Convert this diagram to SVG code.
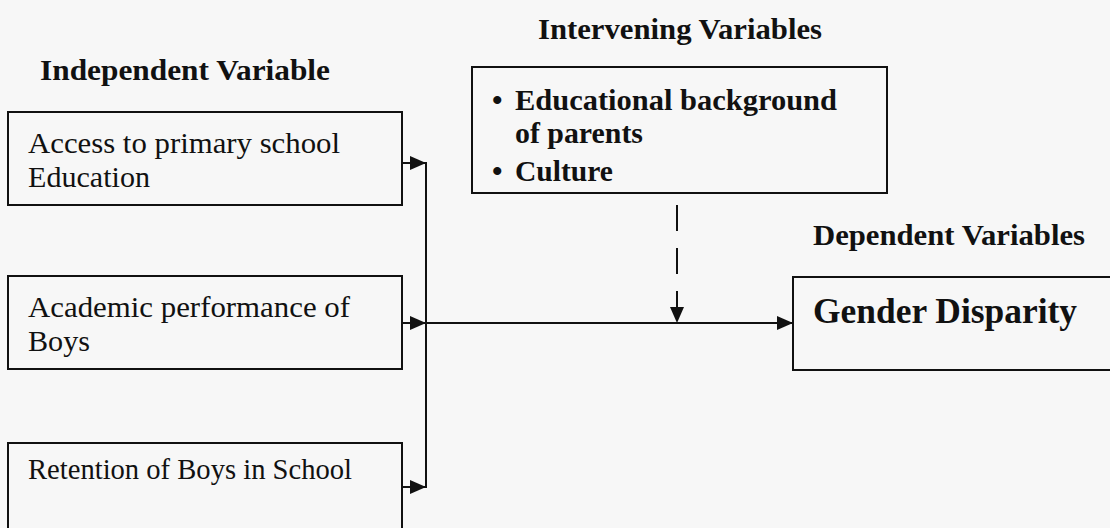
<svg xmlns="http://www.w3.org/2000/svg" width="1110" height="528" viewBox="0 0 1110 528">
<style>
.box{fill:none;stroke:#111;stroke-width:2}
.hdr{font-family:"Liberation Serif","Times New Roman",serif;font-weight:bold;font-size:29px;fill:#111}
.txt{font-family:"Liberation Serif","Times New Roman",serif;font-size:30px;fill:#111}
.btxt{font-family:"Liberation Serif","Times New Roman",serif;font-weight:bold;font-size:30px;fill:#111}
.big{font-family:"Liberation Serif","Times New Roman",serif;font-weight:bold;font-size:35px;fill:#111}
.ln{fill:none;stroke:#111;stroke-width:2}
.dash{fill:none;stroke:#111;stroke-width:2;stroke-dasharray:26 17}
</style>
<defs>
<marker id="ah" viewBox="0 0 16 14" refX="16" refY="7" markerWidth="16" markerHeight="14" orient="auto" markerUnits="userSpaceOnUse">
<path d="M0,0 L16,7 L0,14 z" fill="#111"/>
</marker>
</defs>
<rect x="0" y="0" width="1110" height="528" fill="#f7f7f7"/>
<g id="headers">
<text class="hdr" x="40" y="80" textLength="290" lengthAdjust="spacingAndGlyphs">Independent Variable</text>
<text class="hdr" x="538" y="39" textLength="284" lengthAdjust="spacingAndGlyphs">Intervening Variables</text>
<text class="hdr" x="813" y="245" textLength="272" lengthAdjust="spacingAndGlyphs">Dependent Variables</text>
</g>
<g id="access">
<rect class="box" x="8" y="112" width="394" height="93"/>
<text class="txt" x="28" y="153" textLength="312" lengthAdjust="spacingAndGlyphs">Access to primary school</text>
<text class="txt" x="28" y="187" textLength="122" lengthAdjust="spacingAndGlyphs">Education</text>
</g>
<g id="performance">
<rect class="box" x="8" y="276" width="394" height="93"/>
<text class="txt" x="28" y="317" textLength="322" lengthAdjust="spacingAndGlyphs">Academic performance of</text>
<text class="txt" x="28" y="351" textLength="62" lengthAdjust="spacingAndGlyphs">Boys</text>
</g>
<g id="retention">
<rect class="box" x="8" y="443" width="394" height="100"/>
<text class="txt" x="28" y="479" textLength="324" lengthAdjust="spacingAndGlyphs">Retention of Boys in School</text>
</g>
<g id="intervening">
<rect class="box" x="472" y="67" width="415" height="126"/>
<text class="btxt" x="492" y="110">•</text>
<text class="btxt" x="515" y="110" textLength="322" lengthAdjust="spacingAndGlyphs">Educational background</text>
<text class="btxt" x="515" y="143" textLength="128" lengthAdjust="spacingAndGlyphs">of parents</text>
<text class="btxt" x="492" y="181">•</text>
<text class="btxt" x="515" y="181" textLength="98" lengthAdjust="spacingAndGlyphs">Culture</text>
</g>
<g id="gender">
<rect class="box" x="793" y="277" width="330" height="93"/>
<text class="big" x="813" y="323" textLength="264" lengthAdjust="spacingAndGlyphs">Gender Disparity</text>
</g>
<g id="connectors">
<line class="ln" x1="402" y1="163" x2="426" y2="163" marker-end="url(#ah)"/>
<line class="ln" x1="402" y1="323" x2="426" y2="323" marker-end="url(#ah)"/>
<line class="ln" x1="402" y1="487" x2="426" y2="487" marker-end="url(#ah)"/>
<line class="ln" x1="426" y1="162" x2="426" y2="488"/>
<line class="ln" x1="426" y1="323" x2="793" y2="323" marker-end="url(#ah)"/>
<line class="dash" x1="677" y1="205" x2="677" y2="323" marker-end="url(#ah)"/>
</g>
</svg>
